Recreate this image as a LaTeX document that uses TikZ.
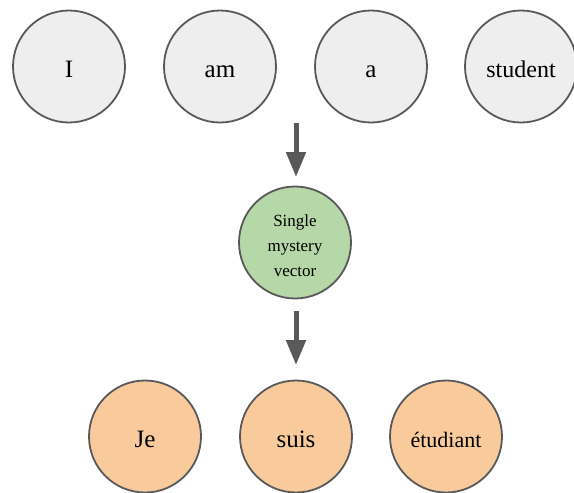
\documentclass[tikz,border=0pt]{standalone}
\usepackage{fontspec}
\setmainfont{Liberation Serif}
\usetikzlibrary{arrows.meta}
\definecolor{edgegray}{HTML}{595959}
\definecolor{wordgray}{HTML}{EEEEEE}
\definecolor{vecgreen}{HTML}{B6D7A8}
\definecolor{outorange}{HTML}{F9CB9C}
\tikzset{
  token/.style={circle, draw=edgegray, line width=1.8pt, minimum size=112pt, inner sep=0pt, align=center},
  word/.style={token, text height=24pt, text depth=2pt, font=\fontsize{25}{28}\selectfont},
  inword/.style={word, fill=wordgray},
  outword/.style={word, fill=outorange},
  mystery/.style={token, fill=vecgreen, font=\fontsize{17}{25}\selectfont},
  flow/.style={draw=edgegray, line width=5pt, -{Triangle[width=19pt,length=25pt]}, color=edgegray}
}
\begin{document}
\begin{tikzpicture}[x=1pt,y=-1pt]
  \useasboundingbox (0,0) rectangle (574,493);
  % input sentence
  \node[inword] (i) at (69,66.5) {I};
  \node[inword] (am) at (220,66.5) {am};
  \node[inword] (a) at (371,66.5) {a};
  \node[inword, font=\fontsize{24}{28}\selectfont] (student) at (521,66.5) {student};
  % encoded vector
  \node[mystery] (vec) at (295,242.5)
    {\raisebox{-3.5pt}[\height][\depth]{\begin{tabular}{@{}c@{}}Single\\mystery\\vector\end{tabular}}};
  % output sentence
  \node[outword] (je) at (145,436.5) {Je};
  \node[outword] (suis) at (296,436.5) {suis};
  \node[outword, font=\fontsize{22}{26}\selectfont] (etudiant) at (446,436.5) {étudiant};
  % arrows
  \coordinate (encfrom) at (296,123);
  \coordinate (encto) at (296,177);
  \coordinate (decfrom) at (296,311);
  \coordinate (decto) at (296,365);
  \draw[flow] (encfrom) -- (encto);
  \draw[flow] (decfrom) -- (decto);
\end{tikzpicture}
\end{document}
